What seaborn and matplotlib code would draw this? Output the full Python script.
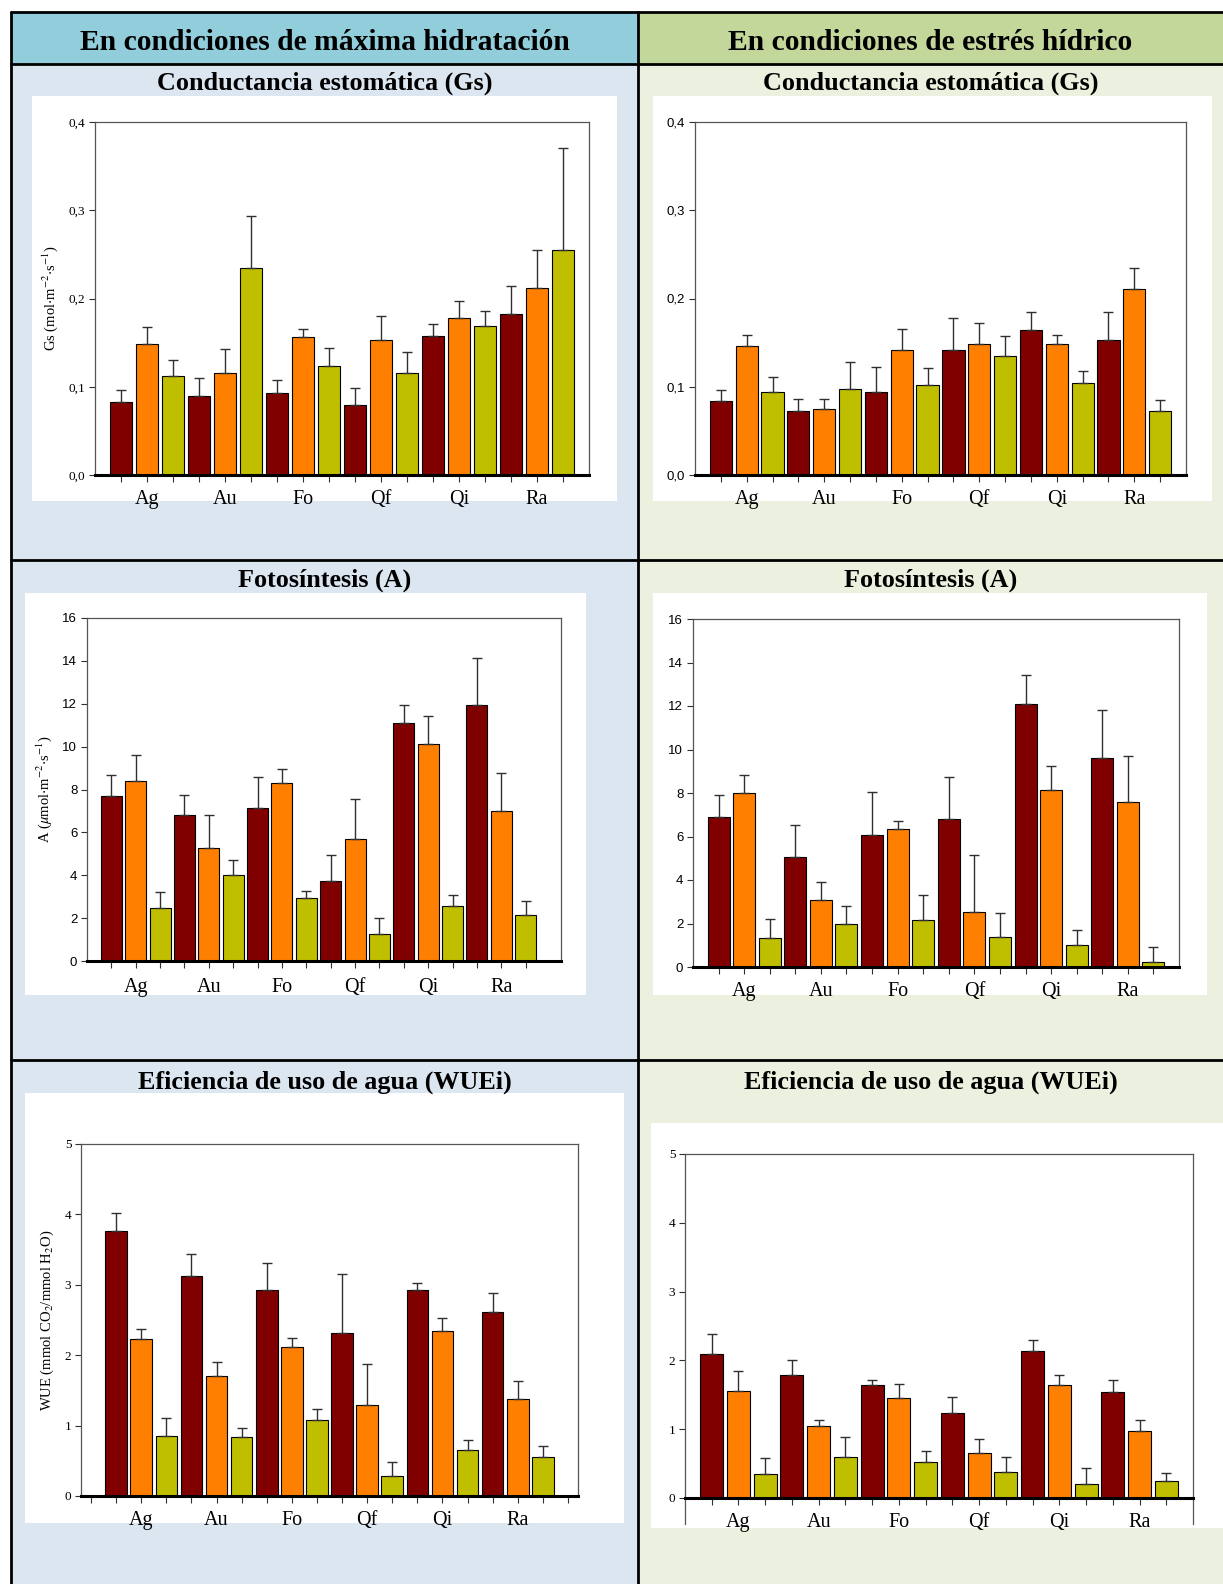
import numpy as np
import pandas as pd
import matplotlib
matplotlib.use("Agg")
import matplotlib.pyplot as plt
from matplotlib.patches import Rectangle
from matplotlib.lines import Line2D
import seaborn as sns

sns.set_theme(style="white")
plt.rcParams['font.family'] = ['Liberation Serif', 'DejaVu Serif']
plt.rcParams['mathtext.fontset'] = 'stix'
plt.rcParams['text.color'] = 'black'
plt.rcParams['axes.labelcolor'] = 'black'
plt.rcParams['xtick.color'] = 'black'
plt.rcParams['ytick.color'] = 'black'

# ---------------- data ----------------
species = ["Ag", "Au", "Fo", "Qf", "Qi", "Ra"]
treatments = ["T1", "T2", "T3"]
colors = ["#800000", "#FF8000", "#BFBF00"]

# Gs - maxima hidratacion
gs_hyd_t1 = [0.083, 0.089, 0.093, 0.079, 0.158, 0.183]
gs_hyd_t1_se = [0.013, 0.021, 0.015, 0.020, 0.013, 0.031]
gs_hyd_t2 = [0.149, 0.116, 0.156, 0.153, 0.178, 0.212]
gs_hyd_t2_se = [0.019, 0.027, 0.010, 0.027, 0.019, 0.043]
gs_hyd_t3 = [0.112, 0.234, 0.123, 0.116, 0.169, 0.255]
gs_hyd_t3_se = [0.018, 0.059, 0.021, 0.023, 0.017, 0.115]

# Gs - estres hidrico
gs_str_t1 = [0.084, 0.072, 0.094, 0.142, 0.164, 0.153]
gs_str_t1_se = [0.012, 0.014, 0.028, 0.036, 0.021, 0.032]
gs_str_t2 = [0.146, 0.075, 0.142, 0.148, 0.148, 0.211]
gs_str_t2_se = [0.013, 0.011, 0.024, 0.024, 0.011, 0.024]
gs_str_t3 = [0.094, 0.097, 0.102, 0.135, 0.104, 0.072]
gs_str_t3_se = [0.017, 0.031, 0.019, 0.022, 0.014, 0.013]

# A - maxima hidratacion
a_hyd_t1 = [7.72, 6.83, 7.13, 3.74, 11.12, 11.96]
a_hyd_t1_se = [0.96, 0.90, 1.43, 1.20, 0.81, 2.16]
a_hyd_t2 = [8.39, 5.28, 8.32, 5.68, 10.14, 7.00]
a_hyd_t2_se = [1.22, 1.52, 0.62, 1.87, 1.31, 1.79]
a_hyd_t3 = [2.48, 4.00, 2.95, 1.27, 2.56, 2.14]
a_hyd_t3_se = [0.72, 0.69, 0.31, 0.73, 0.53, 0.66]

# A - estres hidrico
a_str_t1 = [6.91, 5.04, 6.07, 6.79, 12.11, 9.59]
a_str_t1_se = [1.01, 1.47, 1.99, 1.96, 1.33, 2.24]
a_str_t2 = [8.02, 3.10, 6.36, 2.51, 8.12, 7.57]
a_str_t2_se = [0.79, 0.82, 0.37, 2.62, 1.14, 2.15]
a_str_t3 = [1.32, 2.00, 2.15, 1.39, 1.01, 0.25]
a_str_t3_se = [0.87, 0.82, 1.15, 1.11, 0.71, 0.68]

# WUE - maxima hidratacion
wue_hyd_t1 = [3.77, 3.13, 2.92, 2.31, 2.92, 2.62]
wue_hyd_t1_se = [0.25, 0.31, 0.39, 0.84, 0.11, 0.27]
wue_hyd_t2 = [2.23, 1.71, 2.12, 1.29, 2.34, 1.38]
wue_hyd_t2_se = [0.14, 0.20, 0.12, 0.59, 0.19, 0.26]
wue_hyd_t3 = [0.85, 0.84, 1.08, 0.29, 0.66, 0.56]
wue_hyd_t3_se = [0.26, 0.13, 0.15, 0.19, 0.14, 0.15]

# WUE - estres hidrico
wue_str_t1 = [2.09, 1.79, 1.64, 1.24, 2.13, 1.54]
wue_str_t1_se = [0.29, 0.21, 0.07, 0.23, 0.17, 0.17]
wue_str_t2 = [1.56, 1.05, 1.45, 0.66, 1.64, 0.98]
wue_str_t2_se = [0.28, 0.09, 0.21, 0.20, 0.15, 0.16]
wue_str_t3 = [0.355, 0.60, 0.52, 0.38, 0.21, 0.24]
wue_str_t3_se = [0.22, 0.29, 0.17, 0.22, 0.22, 0.13]

header_left = "En condiciones de máxima hidratación"
header_right = "En condiciones de estrés hídrico"
row_titles = ["Conductancia estomática (Gs)", "Fotosíntesis (A)",
              "Eficiencia de uso de agua (WUEi)"]
ylabels = [r"Gs (mol$\cdot$m$^{-2}$$\cdot$s$^{-1}$)",
           r"A ($\mu$mol$\cdot$m$^{-2}$$\cdot$s$^{-1}$)",
           r"WUE (mmol CO$_2$/mmol H$_2$O)"]

# ---------------- figure ----------------
W, H = 1223, 1584
fig = plt.figure(figsize=(W / 100, H / 100), dpi=100)
fig.patch.set_facecolor("white")


def frect(x0, y0, x1, y1, color, z=0):
    fig.patches.append(Rectangle((x0 / W, 1 - y1 / H), (x1 - x0) / W, (y1 - y0) / H,
                                 transform=fig.transFigure, facecolor=color,
                                 edgecolor="none", zorder=z))


def fline(x0, y0, x1, y1, lw=2.0):
    fig.lines.append(Line2D([x0 / W, x1 / W], [1 - y0 / H, 1 - y1 / H],
                            transform=fig.transFigure, color="black", lw=lw, zorder=5))


def axbox(x0, y0, x1, y1):
    return [x0 / W, 1 - y1 / H, (x1 - x0) / W, (y1 - y0) / H]


XL, XM, XR = 11, 638, 1240
YT, YH, Y1, Y2, YB = 12, 64, 560, 1060, 1600

# backgrounds
frect(XL, YT, XM, YH, "#92CDDC")
frect(XM, YT, XR, YH, "#C4D79B")
frect(XL, YH, XM, YB, "#DCE6F1")
frect(XM, YH, XR, YB, "#EBF1DE")

# white chart panels
panels = [(32, 96, 617, 501), (653, 96, 1212, 501),
          (25, 593, 586, 995), (653, 593, 1207, 995),
          (25, 1093, 624, 1523), (651, 1123, 1223, 1528)]
for p in panels:
    frect(*p, "white", z=1)

# table lines
fline(XL, YT, XR, YT)
fline(XL, YH, XR, YH)
fline(XL, Y1, XR, Y1)
fline(XL, Y2, XR, Y2)
fline(XL, YT, XL, YB)
fline(XM, YT, XM, YB)

hfont = dict(family="Liberation Serif", fontweight="bold", ha="center", va="center",
             color="black")
fig.text((XL + XM) / 2 / W, 1 - 43 / H, header_left, fontsize=21.3, **hfont)
fig.text((XM + 1223) / 2 / W, 1 - 43 / H, header_right, fontsize=21.3, **hfont)
for ty, t in zip([83, 580, 1082], row_titles):
    fig.text((XL + XM) / 2 / W, 1 - ty / H, t, fontsize=18.8, **hfont)
    fig.text((XM + 1223) / 2 / W, 1 - ty / H, t, fontsize=18.8, **hfont)

axes_boxes = [(95, 122, 589, 475), (695, 122, 1186, 475),
              (87, 618, 561, 961), (693, 619, 1179, 967),
              (81, 1144, 578, 1496), (685, 1154, 1193, 1498)]

datasets = [
    ([gs_hyd_t1, gs_hyd_t2, gs_hyd_t3], [gs_hyd_t1_se, gs_hyd_t2_se, gs_hyd_t3_se]),
    ([gs_str_t1, gs_str_t2, gs_str_t3], [gs_str_t1_se, gs_str_t2_se, gs_str_t3_se]),
    ([a_hyd_t1, a_hyd_t2, a_hyd_t3], [a_hyd_t1_se, a_hyd_t2_se, a_hyd_t3_se]),
    ([a_str_t1, a_str_t2, a_str_t3], [a_str_t1_se, a_str_t2_se, a_str_t3_se]),
    ([wue_hyd_t1, wue_hyd_t2, wue_hyd_t3], [wue_hyd_t1_se, wue_hyd_t2_se, wue_hyd_t3_se]),
    ([wue_str_t1, wue_str_t2, wue_str_t3], [wue_str_t1_se, wue_str_t2_se, wue_str_t3_se]),
]

ylims = [(0, 0.4), (0, 0.4), (0, 16), (0, 16), (0, 5), (0, 5)]
yticks = [np.arange(0, 0.41, 0.1), np.arange(0, 0.41, 0.1),
          np.arange(0, 17, 2), np.arange(0, 17, 2),
          np.arange(0, 6, 1), np.arange(0, 6, 1)]
ytick_fmt = [lambda v: f"{v:.1f}".replace(".", ","), lambda v: f"{v:.1f}".replace(".", ","),
             lambda v: f"{int(v)}", lambda v: f"{int(v)}",
             lambda v: f"{int(v)}", lambda v: f"{int(v)}"]
ytick_family = ["Liberation Serif", "Liberation Sans", "Liberation Sans", "Liberation Sans",
                "Liberation Serif", "Liberation Serif"]
xlims = [(-1, 18), (-1, 18), (-1, 18.45), (-1, 18), (-1.4, 18.4), (-1, 18)]
xpads = [6, 6, 7, 6, 6, 6]

for i, (box, (means, ses)) in enumerate(zip(axes_boxes, datasets)):
    ax = fig.add_axes(axbox(*box))
    ax.set_facecolor("none")
    ax.set_zorder(3)
    rows = []
    for si, sp in enumerate(species):
        for ti, tr in enumerate(treatments):
            rows.append(dict(bar=f"{sp}{ti}", species=sp, treat=tr,
                             val=means[ti][si], se=ses[ti][si]))
    df = pd.DataFrame(rows)
    order = list(df["bar"])
    sns.barplot(data=df, x="bar", y="val", hue="treat", order=order,
                hue_order=treatments, palette=colors, dodge=False, width=0.86,
                saturation=1, edgecolor="black", linewidth=0.8, errorbar=None,
                legend=False, ax=ax)
    xpos = np.arange(len(df))
    ax.errorbar(xpos, df["val"], yerr=[np.zeros(len(df)), df["se"]], fmt="none",
                ecolor="#303030", elinewidth=1.0, capsize=3.5, capthick=1.0, zorder=4)
    ax.set_ylim(*ylims[i])
    ax.set_xlim(*xlims[i])
    ax.set_yticks(yticks[i])
    ax.set_yticklabels([ytick_fmt[i](v) for v in yticks[i]],
                       family=ytick_family[i], fontsize=9.5)
    if i == 4:
        xt = np.arange(-1, 19)
    else:
        xt = xpos
    ax.set_xticks(xt)
    labs = []
    for v in xt:
        if v >= 0 and v < len(df) and v % 3 == 1:
            labs.append(species[v // 3])
        else:
            labs.append("")
    ax.set_xticklabels(labs, family="Liberation Serif", fontsize=14.5)
    ax.tick_params(axis="x", direction="out", length=5, width=0.8, color="#303030",
                   pad=xpads[i], bottom=True)
    ax.tick_params(axis="y", direction="out", length=4, width=0.8, color="#303030",
                   pad=3, left=True)
    ax.set_xlabel("")
    if i % 2 == 0:
        ax.set_ylabel(ylabels[i // 2], family="Liberation Serif", fontsize=10.5,
                      labelpad=6, color="black")
    else:
        ax.set_ylabel("")
    for s in ["left", "top", "right"]:
        ax.spines[s].set_color("#555555")
        ax.spines[s].set_linewidth(0.9)
        ax.spines[s].set_visible(True)
    ax.spines["bottom"].set_color("black")
    ax.spines["bottom"].set_linewidth(2.2)
    ax.spines["bottom"].set_visible(True)
    if i == 5:
        ax.spines["left"].set_bounds(-0.38, 5)
        ax.spines["right"].set_bounds(-0.38, 5)

fig.savefig("out.png", dpi=100)
